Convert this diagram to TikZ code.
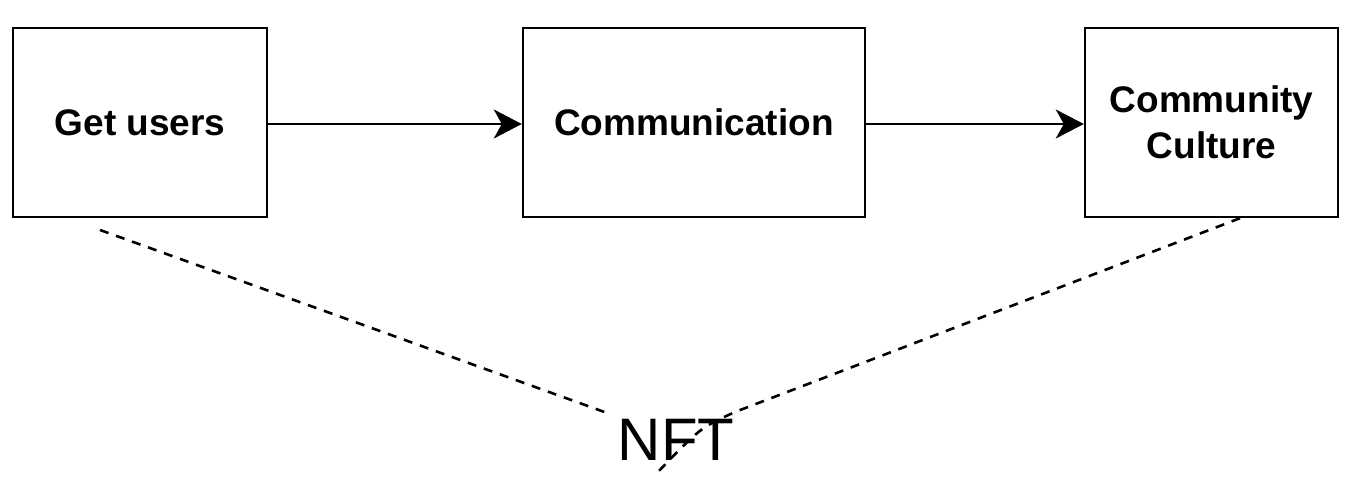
\documentclass[tikz,border=0pt]{standalone}
\usepackage{fontspec}
\setmainfont{Liberation Sans}
\usetikzlibrary{arrows.meta}
\usetikzlibrary{positioning}
\tikzset{box/.style = {draw, line width = 2.4, minimum height = 189, inner sep = 0, align = center, font = \fontsize{37}{46}\selectfont\bfseries}}
\tikzset{flow/.style = {line width = 2.2, -{Stealth[length = 28, width = 29, inset = 8]}}}
\tikzset{link/.style = {line width = 2.6, dash pattern = on 9 off 8}}

\begin{document}
\begin{tikzpicture}[x = 1pt, y = -1pt]
    \useasboundingbox (0, 0) rectangle (1349, 486);

    \node [box, minimum width = 254] (users) at (140, 122.5) {Get users};
    \node [box, minimum width = 342] (comm) at (694, 122.5) {Communication};
    \node [box, minimum width = 253] (culture) at (1211.5, 122.5) {Community\\Culture};
    \node [anchor = base, font = \fontsize{60}{72}\selectfont] (nft) at (676, 460) {NFT};

    \draw [flow] ([yshift = -1.5]users.east) -- ([yshift = -1.5]comm.west);
    \draw [flow] ([yshift = -1.5]comm.east) -- ([yshift = -1.5]culture.west);

    % dashed links down to the NFT label
    \coordinate (usersfoot) at (100, 230);
    \coordinate (nftleft) at (610, 414);
    \coordinate (culturefoot) at ([xshift = 28.5]culture.south);
    \coordinate (nftbend) at (735, 412);
    \coordinate (nftctrl) at (700, 428);
    \coordinate (nftfoot) at (657, 473);
    \draw [link] (usersfoot) -- (nftleft);
    \draw [link] (culturefoot) -- (nftbend) .. controls (nftctrl) .. (nftfoot);
  \end{tikzpicture}
\end{document}
